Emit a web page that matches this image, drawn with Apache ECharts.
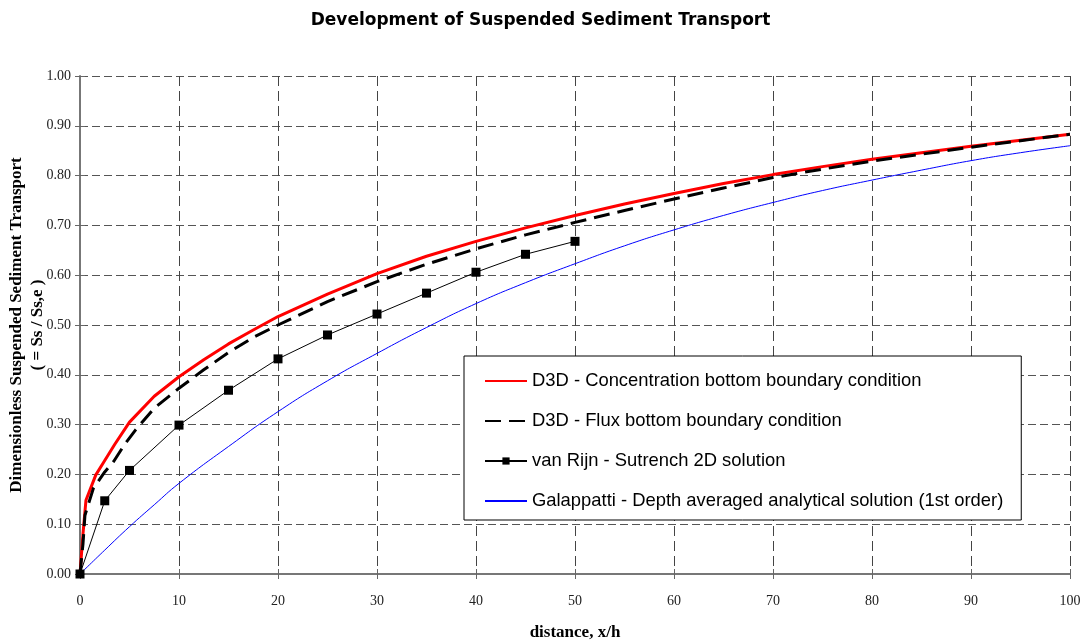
<!DOCTYPE html>
<html>
<head>
<meta charset="utf-8">
<script src="https://cdn.jsdelivr.net/npm/echarts@6/dist/echarts.min.js"></script>
<style>
html,body{margin:0;padding:0;background:#fff;}
#chart{width:1081px;height:642px;}
</style>
</head>
<body>
<div id="chart"></div>
<script>
// ---- data ----
const seriesNames = [
  'D3D - Concentration bottom boundary condition',
  'D3D - Flux bottom boundary condition',
  'van Rijn - Sutrench 2D solution',
  'Galappatti - Depth averaged analytical solution (1st order)'
];
const concX = [0, 0.3, 0.6, 1.6, 2.5, 3.5, 5, 7.5, 10, 12.5, 15, 17.5, 20, 25, 30, 35, 40, 45, 50, 55, 60, 65, 70, 75, 80, 85, 90, 95, 100];
const concY = [0, 0.08, 0.148, 0.199, 0.228, 0.26, 0.305, 0.357, 0.396, 0.43, 0.462, 0.49, 0.517, 0.562, 0.603, 0.638, 0.668, 0.695, 0.72, 0.743, 0.764, 0.784, 0.802, 0.818, 0.833, 0.846, 0.859, 0.871, 0.883];
const fluxX = [0, 0.3, 0.5, 1.35, 2.5, 3.4, 4.5, 5.6, 7.5, 10, 12.5, 15, 17.5, 20, 25, 30, 35, 40, 45, 50, 55, 60, 65, 70, 75, 80, 85, 90, 95, 100];
const fluxY = [0, 0.06, 0.118, 0.172, 0.205, 0.226, 0.26, 0.289, 0.333, 0.373, 0.41, 0.445, 0.475, 0.5, 0.547, 0.587, 0.622, 0.653, 0.681, 0.706, 0.73, 0.753, 0.775, 0.796, 0.813, 0.829, 0.843, 0.857, 0.87, 0.883];
const rijnX = [0, 2.5, 5, 10, 15, 20, 25, 30, 35, 40, 45, 50];
const rijnY = [0, 0.147, 0.208, 0.299, 0.369, 0.432, 0.48, 0.522, 0.564, 0.606, 0.642, 0.668];
const galX = [0, 2.5, 5, 7.5, 10, 15, 20, 25, 30, 35, 40, 45, 50, 55, 60, 65, 70, 75, 80, 85, 90, 95, 100];
const galY = [0, 0.048, 0.095, 0.139, 0.182, 0.256, 0.326, 0.388, 0.443, 0.495, 0.543, 0.585, 0.623, 0.659, 0.691, 0.72, 0.746, 0.77, 0.791, 0.811, 0.83, 0.846, 0.86];

const pairs = (xs, ys) => xs.map((x, i) => [x, ys[i]]);

const tickOnly = {
  axisLine: {show: false},
  axisLabel: {show: false},
  splitLine: {show: false},
  axisTick: {show: true, inside: true, length: 5, lineStyle: {color: '#666'}}
};

const chart = echarts.init(document.getElementById('chart'));
chart.setOption({
  animation: false,
  backgroundColor: '#fff',
  title: {
    text: 'Development of Suspended Sediment Transport',
    left: 'center',
    top: 7,
    textStyle: {fontFamily: 'DejaVu Sans', fontWeight: 'bold', fontSize: 17, color: '#000'}
  },
  grid: {left: 80, right: 11, top: 76, bottom: 68, containLabel: false, outerBoundsMode: 'none'},
  legend: {
    orient: 'vertical',
    left: 464,
    top: 356,
    backgroundColor: '#fff',
    borderColor: '#000',
    borderWidth: 1,
    borderRadius: 0,
    padding: [15, 18, 9, 20],
    itemWidth: 42,
    itemHeight: 9,
    itemGap: 20,
    textStyle: {fontFamily: 'Liberation Sans', fontSize: 18.4, color: '#000', lineHeight: 20},
    data: [
      {name: seriesNames[0], itemStyle: {opacity: 0}},
      {name: seriesNames[1], itemStyle: {opacity: 0}},
      {name: seriesNames[2]},
      {name: seriesNames[3], itemStyle: {opacity: 0}}
    ]
  },
  xAxis: [{
    type: 'value',
    position: 'bottom',
    min: 0, max: 100, interval: 10,
    name: 'distance, x/h',
    nameLocation: 'middle',
    nameGap: 50,
    nameTextStyle: {fontFamily: 'Liberation Serif', fontWeight: 'bold', fontSize: 17, color: '#000'},
    axisLine: {show: true, lineStyle: {color: '#777', width: 2}},
    axisTick: {show: true, inside: false, length: 5, lineStyle: {color: '#666'}},
    axisLabel: {fontFamily: 'Liberation Serif', fontSize: 14, color: '#222', margin: 20},
    splitLine: {show: true, lineStyle: {color: '#444', type: [10, 5], width: 1}}
  }, Object.assign({
    type: 'value', position: 'bottom', min: 0, max: 100, interval: 10
  }, tickOnly)],
  yAxis: [{
    type: 'value',
    position: 'left',
    min: 0, max: 1, interval: 0.1,
    name: 'Dimensionless Suspended Sediment Transport\n( = Ss / Ss,e )',
    nameLocation: 'middle',
    nameGap: 32,
    nameRotate: 90,
    nameMoveOverlap: false,
    nameTextStyle: {fontFamily: 'Liberation Serif', fontWeight: 'bold', fontSize: 17, color: '#000', lineHeight: 21},
    axisLine: {show: true, lineStyle: {color: '#777', width: 2}},
    axisTick: {show: true, inside: false, length: 5, lineStyle: {color: '#666'}},
    axisLabel: {fontFamily: 'Liberation Serif', fontSize: 14, color: '#222', margin: 9,
      formatter: v => v.toFixed(2)},
    splitLine: {show: true, lineStyle: {color: '#555', type: [8, 4], width: 1}}
  }, Object.assign({
    type: 'value', position: 'left', min: 0, max: 1, interval: 0.1
  }, tickOnly)],
  series: [
    {
      name: seriesNames[0], type: 'line', data: pairs(concX, concY),
      symbol: 'none', smooth: false,
      lineStyle: {color: '#ff0000', width: 3}, itemStyle: {color: '#ff0000'}, z: 4
    },
    {
      name: seriesNames[1], type: 'line', data: pairs(fluxX, fluxY),
      symbol: 'none', smooth: false,
      lineStyle: {color: '#000', width: 3, type: [16, 8]}, itemStyle: {color: '#000'}, z: 5
    },
    {
      name: seriesNames[2], type: 'line', data: pairs(rijnX, rijnY),
      symbol: 'rect', symbolSize: 9, showSymbol: true,
      lineStyle: {color: '#000', width: 1}, itemStyle: {color: '#000'}, z: 6
    },
    {
      name: seriesNames[3], type: 'line', data: pairs(galX, galY),
      symbol: 'none', smooth: true,
      lineStyle: {color: '#0000ff', width: 1}, itemStyle: {color: '#0000ff'}, z: 3
    }
  ]
});
</script>
</body>
</html>
